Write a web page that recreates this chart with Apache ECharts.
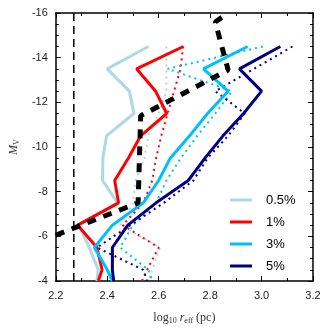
<!DOCTYPE html>
<html>
<head>
<meta charset="utf-8">
<script src="https://cdn.jsdelivr.net/npm/echarts@6/dist/echarts.min.js"></script>
<style>
  html, body { margin: 0; padding: 0; background: #fff; }
  #main { width: 331px; height: 331px; }
</style>
</head>
<body>
<div id="main"></div>
<script>
// magnitude bins (M_V), shared by every curve
var magBins = [-14.5, -13.5, -12.5, -11.5, -10.5, -9.5, -8.5, -7.5, -6.5, -5.5, -4.5, -4];

// solid curves: log10 r_eff at each bin
var solid05 = [2.56, 2.40, 2.486, 2.504, 2.397, 2.383, 2.382, 2.44, 2.29, 2.33, 2.365, 2.36];
var solid1  = [2.696, 2.514, 2.588, 2.631, 2.53, 2.482, 2.429, 2.444, 2.285, 2.36, 2.38, 2.365];
var solid3  = [2.946, 2.774, 2.87, 2.79, 2.72, 2.645, 2.60, 2.54, 2.42, 2.35, 2.40, 2.42];
var solid5  = [3.073, 2.914, 3.0, 2.93, 2.85, 2.78, 2.715, 2.59, 2.48, 2.42, 2.42, 2.425];

// dotted curves
var dot05 = [2.63, 2.63, 2.63, 2.60, 2.56, 2.545, 2.51, 2.50, 2.45, 2.605, 2.575, 2.56];
var dot1  = [2.695, 2.685, 2.66, 2.635, 2.61, 2.59, 2.575, 2.54, 2.46, 2.60, 2.555, 2.535];
var dot3  = [3.005, 2.635, 2.885, 2.82, 2.75, 2.686, 2.63, 2.59, 2.50, 2.45, 2.56, 2.575];
var dot5  = [3.12, 2.97, 2.82, 2.935, 2.87, 2.79, 2.735, 2.62, 2.49, 2.36, 2.54, 2.555];

// thick black dashed model line
var modelX = [2.2, 2.52, 2.53, 2.87, 2.82, 2.87];
var modelY = [-6.05, -7.5, -11.4, -13.45, -15.6, -16];

// resolution limit
var limitX = 2.27;

var names = ['0.5%', '1%', '3%', '5%'];
var colors = ['#add8e6', '#ff0000', '#00bfff', '#000080'];
var xLabels = ['2.2', '2.4', '2.6', '2.8', '3.0', '3.2'];

function pairs(xs, ys) {
  return xs.map(function (x, i) { return [x, ys[i]]; });
}

var solids = [solid05, solid1, solid3, solid5];
var dots = [dot05, dot1, dot3, dot5];
var series = [];

dots.forEach(function (d, i) {
  series.push({
    name: names[i] + ' dotted',
    type: 'line',
    data: pairs(d, magBins),
    symbol: 'none',
    lineStyle: { color: colors[i], width: 2, type: [2, 4] },
    z: 2
  });
});
solids.forEach(function (d, i) {
  series.push({
    name: names[i],
    type: 'line',
    data: pairs(d, magBins),
    symbol: 'none',
    itemStyle: { color: colors[i] },
    lineStyle: { color: colors[i], width: 3 },
    z: 3
  });
});
series.push({
  name: 'limit',
  type: 'line',
  data: [[limitX, -16], [limitX, -4]],
  symbol: 'none',
  lineStyle: { color: '#000', width: 1.5, type: [8, 5] },
  z: 4
});
series.push({
  name: 'model',
  type: 'line',
  data: pairs(modelX, modelY),
  symbol: 'none',
  lineStyle: { color: '#000', width: 5, type: [9, 8] },
  z: 5
});

var chart = echarts.init(document.getElementById('main'), null, { renderer: 'canvas' });

var axisLine = { show: true, onZero: false, lineStyle: { color: '#000', width: 1.5 } };

chart.setOption({
  animation: false,
  backgroundColor: '#fff',
  grid: { left: 51, right: 18, top: 13, bottom: 50 },
  legend: {
    data: names,
    orient: 'vertical',
    left: 225,
    top: 188,
    icon: 'rect',
    itemWidth: 22,
    itemHeight: 3,
    itemGap: 8,
    textStyle: { fontFamily: 'Liberation Sans', fontSize: 13, color: '#000', lineHeight: 14, padding: [0, 0, 0, 9] }
  },
  xAxis: [{
    type: 'value',
    min: 2.2,
    max: 3.2,
    interval: 0.2,
    position: 'bottom',
    name: '{a|log}{s|10}{a| }{i|r}{s|eff}{a| (pc)}',
    nameLocation: 'middle',
    nameGap: 30,
    nameTextStyle: {
      rich: {
        a: { fontFamily: 'Liberation Serif', fontSize: 12, color: '#333' },
        i: { fontFamily: 'Liberation Serif', fontStyle: 'italic', fontSize: 12, color: '#333' },
        s: { fontFamily: 'Liberation Serif', fontSize: 8, color: '#333', verticalAlign: 'bottom', padding: [6, 0, 0, 0] }
      }
    },
    axisLine: axisLine,
    axisTick: { inside: true, length: 5, lineStyle: { color: '#000' } },
    minorTick: { show: true, splitNumber: 2, length: 3, lineStyle: { color: '#000' } },
    splitLine: { show: false },
    axisLabel: {
      margin: 9,
      fontFamily: 'Liberation Sans', fontSize: 11, color: '#222',
      formatter: function (v) { return xLabels[Math.round((v - 2.2) / 0.2)]; }
    }
  }, {
    type: 'value',
    min: 2.2,
    max: 3.2,
    interval: 0.2,
    position: 'top',
    axisLine: axisLine,
    axisTick: { inside: true, length: 5, lineStyle: { color: '#000' } },
    minorTick: { show: true, splitNumber: 2, length: 3, lineStyle: { color: '#000' } },
    splitLine: { show: false },
    axisLabel: { show: false }
  }],
  yAxis: [{
    type: 'value',
    min: -16,
    max: -4,
    interval: 2,
    inverse: true,
    position: 'left',
    name: '{i|M}{s|V}',
    nameLocation: 'middle',
    nameRotate: 90,
    nameGap: 32,
    nameTextStyle: {
      rich: {
        i: { fontFamily: 'Liberation Serif', fontStyle: 'italic', fontSize: 12, color: '#333' },
        s: { fontFamily: 'Liberation Serif', fontSize: 8, color: '#333', verticalAlign: 'bottom', padding: [6, 0, 0, 0] }
      }
    },
    axisLine: axisLine,
    axisTick: { inside: true, length: 5, lineStyle: { color: '#000' } },
    minorTick: { show: true, splitNumber: 4, length: 3, lineStyle: { color: '#000' } },
    splitLine: { show: false },
    axisLabel: { margin: 8, fontFamily: 'Liberation Sans', fontSize: 11, color: '#222' }
  }, {
    type: 'value',
    min: -16,
    max: -4,
    interval: 2,
    inverse: true,
    position: 'right',
    axisLine: axisLine,
    axisTick: { inside: true, length: 5, lineStyle: { color: '#000' } },
    minorTick: { show: true, splitNumber: 4, length: 3, lineStyle: { color: '#000' } },
    splitLine: { show: false },
    axisLabel: { show: false }
  }],
  series: series
});
</script>
</body>
</html>
